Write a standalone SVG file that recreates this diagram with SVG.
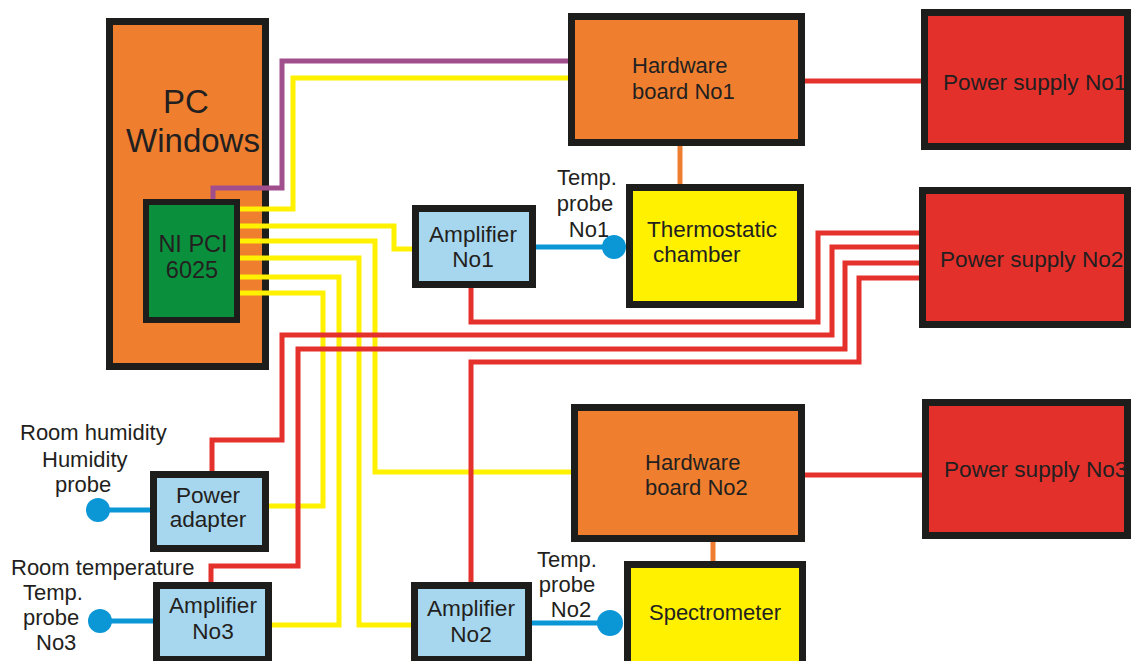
<svg xmlns="http://www.w3.org/2000/svg" width="1131" height="661" viewBox="0 0 1131 661">
<style>
.box{stroke:#1d1d1b;stroke-width:7}
.orange{fill:#ef7f2f}
.red{fill:#e4302a}
.yellow{fill:#fff100}
.blue{fill:#a7d7ef}
.green{fill:#0a8f3d}
text{font-family:"Liberation Sans",Arial,sans-serif;fill:#231f20;font-size:22px}
.lbl{font-size:22px}
.ps{font-size:22.6px}
.amp{font-size:22.6px}
.ni{font-size:23.5px}
.big{font-size:33px}
.c{text-anchor:middle}
.w{fill:none;stroke-width:5;stroke-linejoin:miter;stroke-linecap:butt}
.py{stroke:#fff100}
.pr{stroke:#e5312b}
.pp{stroke:#a04e8c}
.pb{stroke:#0b96d6}
.po{stroke:#ee7d31}
.dot{fill:#0b96d6}
</style>
<rect width="1131" height="661" fill="#ffffff"/>
<g id="pc">
<rect class="box orange" x="109.5" y="21.5" width="156" height="345"/>
<text class="big c" x="186" y="113">PC</text>
<text class="big c" x="193" y="152">Windows</text>
</g>
<g id="nipci">
<rect class="box green" x="146" y="202" width="91" height="118" style="stroke-width:6"/>
<text class="ni c" x="193" y="252">NI PCI</text>
<text class="ni c" x="192" y="278">6025</text>
</g>
<g id="hb1">
<rect class="box orange" x="571.5" y="16.5" width="230" height="126"/>
<text x="632" y="73">Hardware</text>
<text x="632" y="99">board No1</text>
</g>
<g id="ps1">
<rect class="box red" x="924.5" y="12.5" width="203" height="134"/>
<text class="ps" x="943" y="90">Power supply No1</text>
</g>
<g id="thermo">
<rect class="box yellow" x="629.5" y="187.5" width="171" height="117"/>
<text x="647" y="237" style="font-size:22.5px">Thermostatic</text>
<text x="653" y="262" style="font-size:22.5px">chamber</text>
</g>
<g id="ps2">
<rect class="box red" x="922.5" y="190.5" width="205" height="134"/>
<text class="ps" x="940" y="267">Power supply No2</text>
</g>
<g id="amp1">
<rect class="box blue" x="415.5" y="208.5" width="117" height="76"/>
<text class="amp c" x="473" y="242">Amplifier</text>
<text class="amp c" x="473" y="267">No1</text>
</g>
<g id="hb2">
<rect class="box orange" x="574.5" y="407.5" width="227" height="131"/>
<text x="645" y="470">Hardware</text>
<text x="645" y="495">board No2</text>
</g>
<g id="ps3">
<rect class="box red" x="925.5" y="402.5" width="202" height="133"/>
<text class="ps" x="944" y="477">Power supply No3</text>
</g>
<g id="spectro">
<rect class="box yellow" x="627.5" y="564.5" width="175" height="110"/>
<text class="c" x="715" y="620">Spectrometer</text>
</g>
<g id="amp2">
<rect class="box blue" x="414.5" y="585.5" width="114" height="74"/>
<text class="amp c" x="471" y="616">Amplifier</text>
<text class="amp c" x="471" y="642">No2</text>
</g>
<g id="amp3">
<rect class="box blue" x="156.5" y="585.5" width="112" height="74"/>
<text class="amp c" x="213" y="613">Amplifier</text>
<text class="amp c" x="213" y="639">No3</text>
</g>
<g id="padapter">
<rect class="box blue" x="153.5" y="474.5" width="112" height="74"/>
<text class="amp c" x="208" y="503">Power</text>
<text class="amp c" x="208" y="527">adapter</text>
</g>
<g id="probe1">
<text class="lbl c" x="587" y="185">Temp.</text>
<text class="lbl c" x="585" y="211">probe</text>
<text class="lbl c" x="589" y="237">No1</text>
<circle class="dot" cx="614" cy="247" r="12"/>
</g>
<g id="probe2">
<text class="lbl c" x="567" y="567">Temp.</text>
<text class="lbl c" x="567" y="592">probe</text>
<text class="lbl c" x="571" y="617">No2</text>
<circle class="dot" cx="610" cy="623" r="13"/>
</g>
<g id="humidity">
<text class="lbl" x="20" y="440">Room humidity</text>
<text class="lbl" x="42" y="467">Humidity</text>
<text class="lbl" x="55" y="492">probe</text>
<circle class="dot" cx="98" cy="510" r="12"/>
</g>
<g id="probe3">
<text class="lbl" x="11" y="575">Room temperature</text>
<text class="lbl" x="23" y="600">Temp.</text>
<text class="lbl" x="23" y="625">probe</text>
<text class="lbl" x="36" y="650">No3</text>
<circle class="dot" cx="100" cy="621" r="12"/>
</g>
<g id="connectors">
<path class="w pp" d="M213,199 V188 H282 V61 H568"/>
<path class="w py" d="M240,209 H293 V78 H568"/>
<path class="w py" d="M240,226 H394 V249 H412"/>
<path class="w py" d="M240,241 H375 V472 H571"/>
<path class="w py" d="M240,258 H359 V625 H411"/>
<path class="w py" d="M240,277 H339 V625 H272"/>
<path class="w py" d="M240,293 H323 V506 H269"/>
<path class="w pr" d="M471,288 V322 H818 V233 H919"/>
<path class="w pr" d="M212,471 V440 H282 V335 H832 V247 H919"/>
<path class="w pr" d="M211,582 V566 H298 V349 H845 V263 H919"/>
<path class="w pr" d="M471,582 V362 H859 V278 H919"/>
<path class="w pr" d="M805,81 H921"/>
<path class="w pr" d="M805,475 H922"/>
<path class="w pb" d="M536,247 H614"/>
<path class="w pb" d="M150,510 H98"/>
<path class="w pb" d="M153,621 H100"/>
<path class="w pb" d="M532,623 H610"/>
<path class="w po" d="M680,146 V184"/>
<path class="w po" d="M713,542 V561"/>
</g>
</svg>
